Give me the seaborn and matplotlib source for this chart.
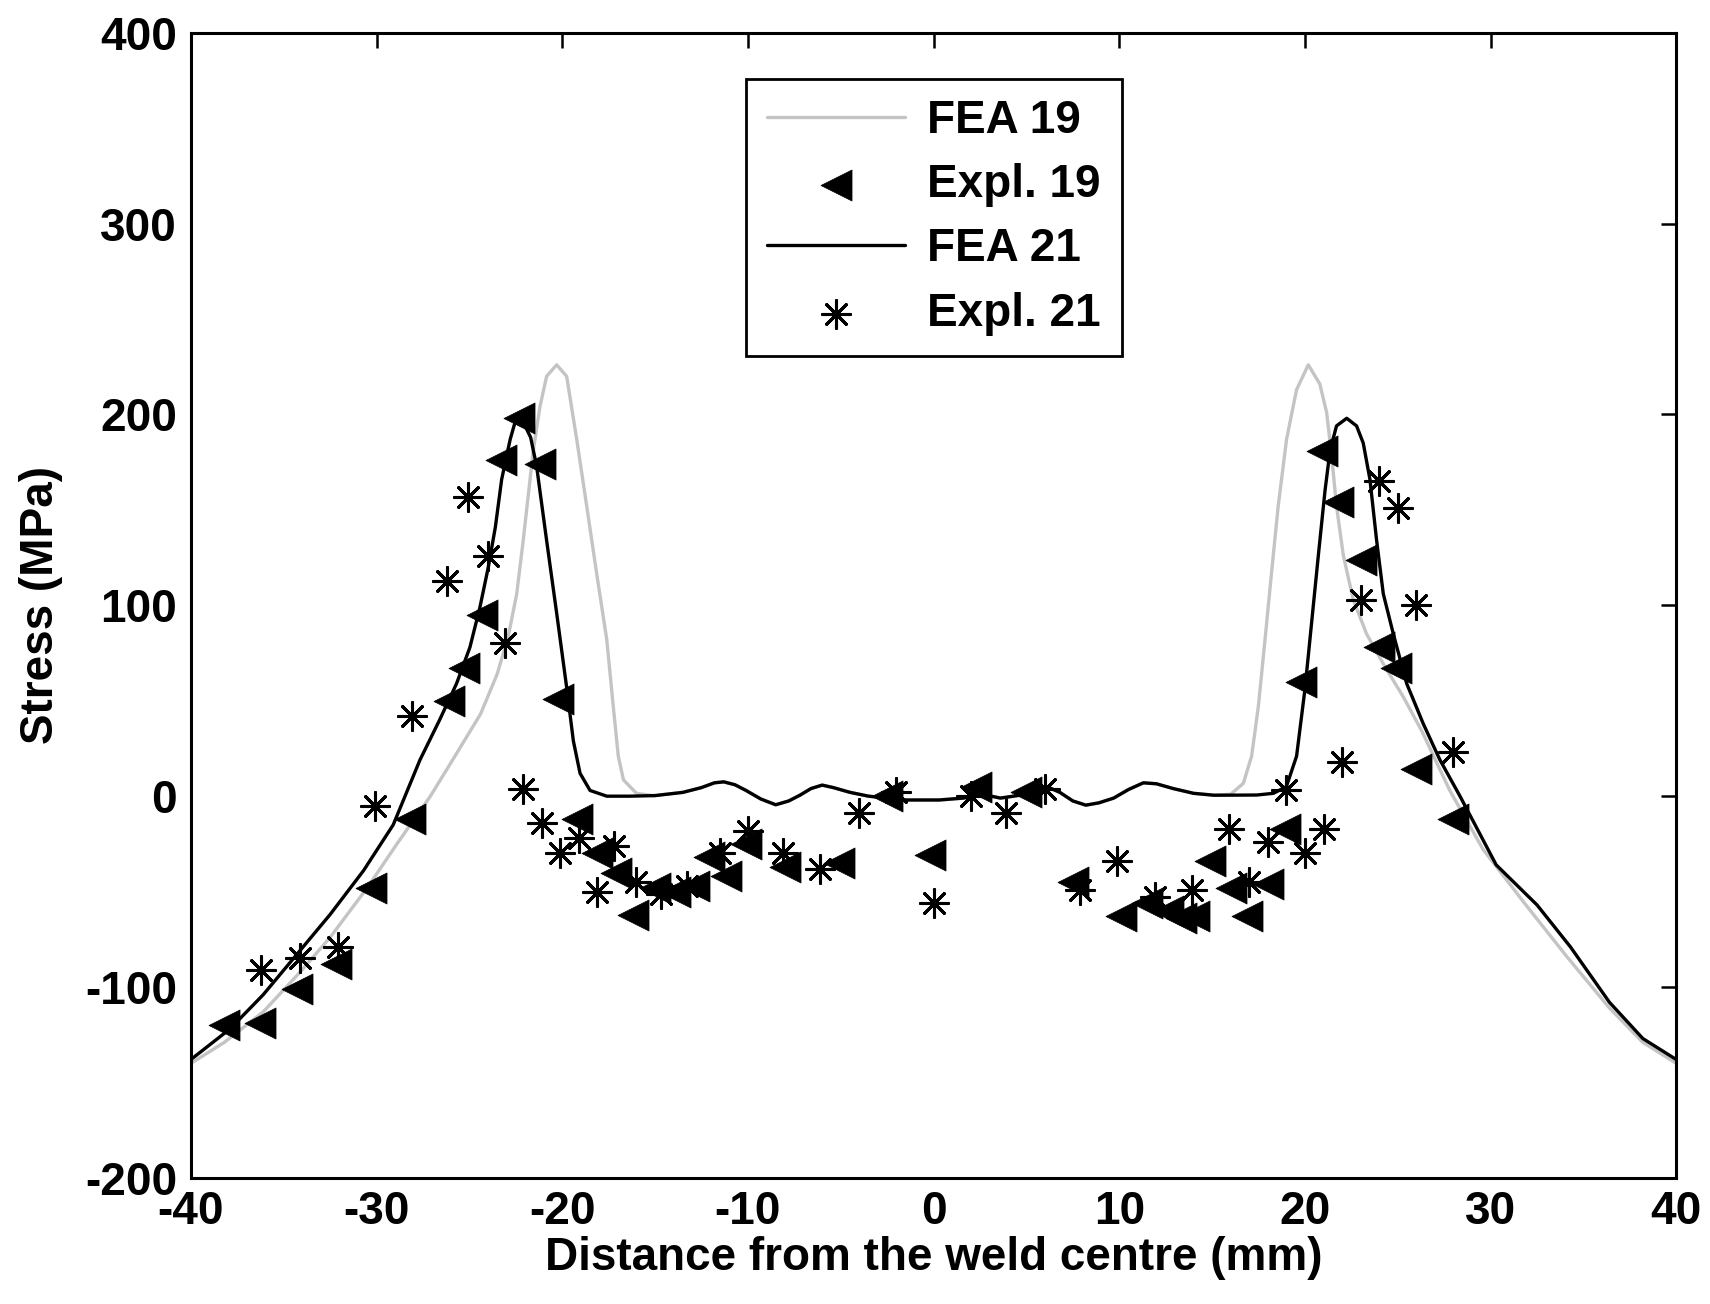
import matplotlib
matplotlib.use("Agg")
import matplotlib.pyplot as plt
import seaborn as sns

# ---------------- data ----------------
fea19_x = [-40, -38.2, -36.1, -34.1, -32.5, -30.5, -28.9, -27.1, -25.9, -24.4, -23.5, -22.9,
           -22.45, -22.1, -21.8, -21.56, -21.2, -20.84, -20.3, -19.76, -19.22, -18.68, -18.15,
           -17.6, -17.25, -16.98, -16.7, -16.0, -15.1,
           -13.5, -12.5, -11.8, -11.3, -10.7, -10.1, -9.3, -8.5, -7.8, -7.2, -6.6, -6.0, -5.4,
           -4.5, -3.5, -2.5, -1.5, 0.3, 1.6, 2.6, 3.6, 5.0, 5.6, 6.1, 6.8, 7.5, 8.2, 8.9, 9.7,
           10.5, 11.3, 12.0, 12.9, 14.0, 15.1,
           16.0, 16.68, 17.13, 17.49, 17.85, 18.2, 18.56, 19.01, 19.55, 20.18, 20.8, 21.17,
           21.44, 21.7, 22.07, 22.6, 23.32, 24.3, 25.3, 26.3, 27.8, 29.6, 31.9, 34.1, 36.4,
           38.2, 40]
fea19_y = [-140, -129, -113, -92, -74, -48, -25, 0, 19, 43, 64, 84,
           106, 134, 160, 181, 204, 220, 226, 220, 187, 152, 117,
           82, 47, 21, 8.5, 1.5, 0.3,
           2, 4.5, 7, 7.5, 6, 3, -1.5, -4.5, -2.5, 0.5, 4, 5.8, 4.5,
           2, 0, -1, -2, -2, -1, 1, -1, 1, 3.5, 5, 2, -2.5, -4.7, -3.5, -1,
           3.5, 7, 6.5, 4, 1.5, 0.5,
           1, 6.7, 21, 47, 82, 117, 152, 187, 213, 226, 216, 201,
           178, 152, 126, 103, 85, 68, 52, 34, 3, -28, -57, -84, -111,
           -129, -140]

fea21_x = [-40, -37.9, -36.1, -34.3, -32.5, -30.7, -29.1, -27.66, -26.6, -25.69, -24.97,
           -24.43, -23.98, -23.6, -23.26, -22.8, -22.45, -22.1, -21.7, -21.38, -20.84, -20.3,
           -19.76, -19.4, -19.04, -18.5, -17.6, -16.4, -15.0,
           -13.5, -12.5, -11.8, -11.3, -10.7, -10.1, -9.3, -8.5, -7.8, -7.2, -6.6, -6.0, -5.4,
           -4.5, -3.5, -2.5, -1.5, 0.3, 1.6, 2.6, 3.6, 5.0, 5.6, 6.1, 6.8, 7.5, 8.2, 8.9, 9.7,
           10.5, 11.3, 12.0, 12.9, 14.0, 15.1, 17.4, 18.3, 19.0, 19.55, 20.0, 20.36,
           20.72, 21.08, 21.35, 21.7, 22.25, 22.78, 23.14, 23.5, 23.86, 24.22, 24.76, 25.48,
           26.37, 27.27, 28.35, 30.3, 32.5, 34.3, 36.4, 38.2, 40]
fea21_y = [-138, -122, -104, -83, -62, -39, -15, 19, 40, 59, 78,
           99, 120, 141, 166, 187, 199, 196, 188, 173, 134, 96,
           57, 29, 12, 3, 0, 0, 0.3,
           2, 4.5, 7, 7.5, 6, 3, -1.5, -4.5, -2.5, 0.5, 4, 5.8, 4.5,
           2, 0, -1, -2, -2, -1, 1, -1, 1, 3.5, 5, 2, -2.5, -4.7, -3.5, -1,
           3.5, 7, 6.5, 4, 1.5, 0.5, 0.6, 1.5, 5, 21, 56, 91,
           126, 160, 181, 194, 198, 194, 185, 166, 134, 106, 85, 59,
           38, 19, 0, -36, -57, -79, -108, -127, -138]

expl19_x = [-38.2, -36.3, -34.3, -32.2, -30.3, -28.2, -26.1, -25.3, -24.3, -23.3, -22.3, -21.2,
            -20.2, -19.2, -18.1, -17.1, -16.2, -15.0, -13.9, -12.9, -12.1, -11.2, -10.1, -8.0,
            -5.1, -2.5, -0.2, 2.3, 5.0, 7.5, 10.1, 11.5, 12.6, 13.3, 14.0, 14.9, 16.0, 16.9,
            18.0, 18.9, 19.8, 20.9, 21.8, 23.0, 24.0, 24.9, 26.0, 28.0]
expl19_y = [-120, -119, -101, -88, -48, -12, 50, 67, 95, 176, 198, 174,
            51, -12, -30, -40, -62, -48, -50, -47, -32, -42, -25, -37,
            -35, 0, -31, 5, 2, -45, -63, -56, -60, -64, -63, -34, -48, -63,
            -46, -17, 60, 181, 154, 124, 78, 67, 14, -12]

expl21_x = [-36.2, -34.1, -32.1, -30.1, -28.1, -26.2, -25.1, -24.0, -23.1, -22.1, -21.1, -20.1,
            -19.1, -18.1, -17.2, -16.0, -14.7, -13.3, -11.5, -10.0, -8.1, -6.1, -4.0, -2.0,
            0.0, 2.0, 3.9, 6.0, 7.9, 9.9, 11.9, 13.9, 15.9, 17.0, 18.0, 19.0, 20.0, 21.0,
            22.0, 23.0, 24.0, 25.0, 26.0, 28.0]
expl21_y = [-91, -85, -79, -5, 42, 113, 157, 126, 80, 4, -14, -30,
            -22, -50, -26, -45, -51, -47, -30, -18, -30, -38, -9, 2,
            -56, 0, -9, 4, -49, -34, -53, -49, -17, -45, -24, 3, -30, -17,
            18, 103, 165, 151, 100, 23]

x_ticks = [-40, -30, -20, -10, 0, 10, 20, 30, 40]
y_ticks = [-200, -100, 0, 100, 200, 300, 400]
labels = ["FEA 19", "Expl. 19", "FEA 21", "Expl. 21"]

# ---------------- style ----------------
sns.set_style("white")
plt.rcParams['font.family'] = ['Liberation Sans', 'DejaVu Sans']
plt.rcParams['font.weight'] = 'bold'
plt.rcParams['text.color'] = 'black'
plt.rcParams['axes.labelcolor'] = 'black'
plt.rcParams['xtick.color'] = 'black'
plt.rcParams['ytick.color'] = 'black'
FS = 33

fig = plt.figure(figsize=(17.1, 13.04), dpi=100)
ax = fig.add_axes([0.1116, 0.0967, 0.9803 - 0.1116, 0.9749 - 0.0967])

sns.lineplot(x=fea19_x, y=fea19_y, color="#c4c4c4", linewidth=2.4, sort=False,
             estimator=None, label=labels[0], ax=ax, zorder=2)
sns.scatterplot(x=expl19_x, y=expl19_y, marker="<", s=500, color="black",
                edgecolor="black", linewidth=0.5, label=labels[1], ax=ax, zorder=3)
sns.lineplot(x=fea21_x, y=fea21_y, color="black", linewidth=2.4, sort=False,
             estimator=None, label=labels[2], ax=ax, zorder=4)
sns.scatterplot(x=expl21_x, y=expl21_y, marker=(8, 2, 0), s=400, color="black",
                linewidth=2.2, label=labels[3], ax=ax, zorder=5)

ax.set_xlim(-40, 40)
ax.set_ylim(-200, 400)
ax.set_xticks(x_ticks)
ax.set_yticks(y_ticks)
ax.set_xticklabels([str(t) for t in x_ticks])
ax.set_yticklabels([str(t) for t in y_ticks])

for s in ax.spines.values():
    s.set_visible(True)
    s.set_linewidth(2.2)
    s.set_color("black")
ax.tick_params(axis="both", which="both", direction="in", length=11, width=1.8,
               top=True, right=True, labelsize=FS, colors="black")
ax.tick_params(axis="x", pad=9)
ax.tick_params(axis="y", pad=10)
for lab in ax.get_xticklabels() + ax.get_yticklabels():
    lab.set_fontweight("bold")

ax.set_xlabel("Distance from the weld centre (mm)", fontsize=FS, fontweight="bold",
              labelpad=1, color="black")
ax.set_ylabel("Stress (MPa)", fontsize=FS, fontweight="bold", labelpad=16, color="black")

handles, labs = ax.get_legend_handles_labels()
leg = ax.legend(handles, labs, loc="upper left", bbox_to_anchor=(0.374, 0.960),
                borderaxespad=0, frameon=True, fancybox=False,
                handlelength=3.0, handletextpad=0.5, labelspacing=0.44,
                borderpad=0.45, scatterpoints=1, prop={"weight": "bold", "size": FS})
leg.get_frame().set_edgecolor("black")
leg.get_frame().set_linewidth(2.0)
leg.get_frame().set_alpha(1)
for t in leg.get_texts():
    t.set_color("black")

fig.savefig("out.png", dpi=100, facecolor="white")
